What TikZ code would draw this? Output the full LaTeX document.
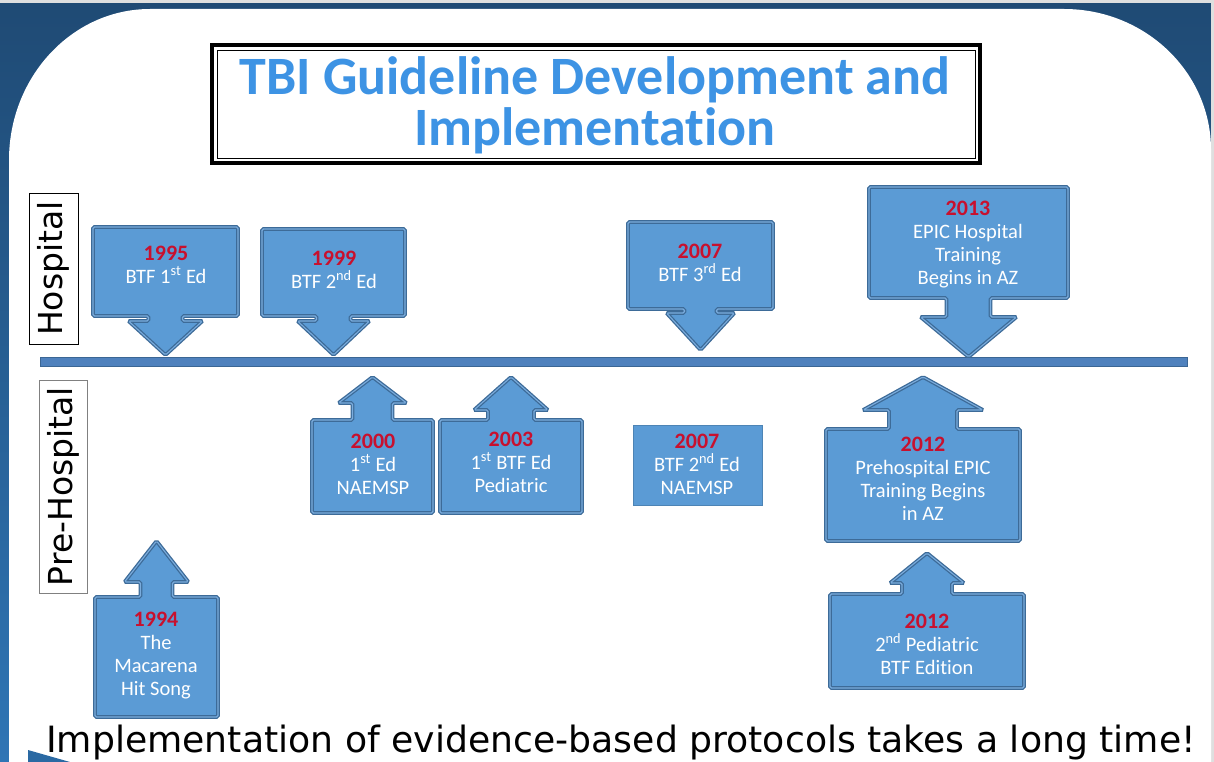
\documentclass[tikz,border=0pt]{standalone}
\usepackage{fontspec}
\setmainfont{Carlito}[Ligatures=NoCommon]
\newfontfamily\labelfont{DejaVu Sans}
\usetikzlibrary{positioning}
\definecolor{bgtop}{HTML}{1F4A74}
\definecolor{bgbottom}{HTML}{2F75B5}
\definecolor{eventfill}{HTML}{5B9BD5}
\definecolor{eventedge}{HTML}{3D6B98}
\definecolor{eventinner}{HTML}{7AACDD}
\definecolor{yearred}{HTML}{C8102E}
\definecolor{barfill}{HTML}{4F81BD}
\definecolor{baredge}{HTML}{3B6694}
\definecolor{titleblue}{HTML}{3D93E4}
\tikzset{
    eventbox/.style = {fill=eventfill, draw=eventedge, line width=1.3pt, double=eventinner, double distance=1.1pt, rounded corners=1.5pt},
    plainbox/.style = {rectangle, fill=eventfill, draw=eventfill!85!black, line width=0.6pt, inner sep=0pt},
    eventtext/.style = {text=white, align=center, inner sep=0pt, anchor=north, font=\fontsize{20.5}{22.8}\selectfont},
    sidelabel/.style = {rotate=90, draw, inner sep=0pt, fill=white, font=\labelfont\fontsize{33}{36}\selectfont},
    timebar/.style = {rectangle, fill=barfill, draw=baredge, line width=1pt, inner sep=0pt}}
\newcommand{\yr}[1]{{\color{yearred}\bfseries\fontsize{22}{22.8}\selectfont #1}\\}
% left, top, right, bottom, shaft half, head half, shoulder, tip
\newcommand{\downevent}[8]{%
    \pgfmathsetmacro{\evcx}{(#1+#3)/2}
    \draw[eventbox] (#1,#2) -- (#3,#2) -- (#3,#4) -- (\evcx+#5,#4) -- (\evcx+#5,#7) -- (\evcx+#6,#7)
        -- (\evcx,#8) -- (\evcx-#6,#7) -- (\evcx-#5,#7) -- (\evcx-#5,#4) -- (#1,#4) -- cycle;}
\newcommand{\upevent}[8]{%
    \pgfmathsetmacro{\evcx}{(#1+#3)/2}
    \draw[eventbox] (#1,#2) -- (\evcx-#5,#2) -- (\evcx-#5,#7) -- (\evcx-#6,#7) -- (\evcx,#8)
        -- (\evcx+#6,#7) -- (\evcx+#5,#7) -- (\evcx+#5,#2) -- (#3,#2) -- (#3,#4) -- (#1,#4) -- cycle;}
\begin{document}
\begin{tikzpicture}[x=1pt, y=-1pt]
    \useasboundingbox (0,0) rectangle (1214,762);
    \fill[top color=bgtop, bottom color=bgbottom] (0,0) rectangle (1214,762);
    \fill[gray!25] (0,0) rectangle (1214,3);
    \fill[gray!25] (1211,0) rectangle (1214,762);
    \fill[white] (9,762) -- (9,160) .. controls (9,77) and (72,9) .. (150,9) -- (1064,9)
        .. controls (1145,9) and (1211,72) .. (1211,150) -- (1211,762) -- cycle;
    \fill[bgbottom!90!black] (28,750) -- (70,762) -- (28,762) -- cycle;

    \draw[line width=3.5pt, fill=white] (212,45) rectangle (980,163);
    \draw[line width=0.8pt] (217,50) rectangle (975,158);
    \node[align=center, inner sep=0pt, text=titleblue, font=\bfseries\fontsize{54}{51}\selectfont] (title) at (595,105)
        {TBI Guideline Development and\\Implementation};

    \node[sidelabel, minimum width=151, minimum height=49] (hosp) at (53.5,268.5) {Hospital};
    \node[sidelabel, draw=gray, minimum width=213, minimum height=48] (prehosp) at (63,486.5) {Pre-Hospital};

    \node[timebar, minimum width=1147, minimum height=9] (timeline) at (613.5,362) {};

    \downevent{93}{227}{238}{316}{17}{37}{321}{355}
    \downevent{262}{229}{405}{316}{17}{36}{321}{355}
    \downevent{628}{222}{773}{309}{16}{34}{313}{350}
    \downevent{869}{187}{1068}{298}{22}{48}{317}{357}
    \upevent{312}{420}{433}{513}{20}{34}{403}{377}
    \upevent{440}{420}{582}{513}{23}{37}{410}{377}
    \upevent{826}{429}{1020}{541}{34}{60}{410}{377}
    \upevent{830}{594}{1024}{688}{25}{37}{583}{553}
    \upevent{95}{597}{218}{717}{16}{32}{582}{541}
    \node[plainbox, minimum width=129, minimum height=80] (nae2007) at (697.5,465) {};

    \node[eventtext] (ev1995) at (166,246) {\yr{1995}BTF 1\textsuperscript{st} Ed};
    \node[eventtext] (ev1999) at (334,251) {\yr{1999}BTF 2\textsuperscript{nd} Ed};
    \node[eventtext] (ev2007) at (700,244) {\yr{2007}BTF 3\textsuperscript{rd} Ed};
    \node[eventtext] (ev2013) at (968,201) {\yr{2013}EPIC Hospital\\Training\\Begins in AZ};
    \node[eventtext] (ev2000) at (373,434) {\yr{2000}1\textsuperscript{st} Ed\\NAEMSP};
    \node[eventtext] (ev2003) at (511,432) {\yr{2003}1\textsuperscript{st} BTF Ed\\Pediatric};
    \node[eventtext] (ev2007n) at (697,434) {\yr{2007}BTF 2\textsuperscript{nd} Ed\\NAEMSP};
    \node[eventtext] (ev2012) at (923,437) {\yr{2012}Prehospital EPIC\\Training Begins\\in AZ};
    \node[eventtext] (ev2012p) at (927,614) {\yr{2012}2\textsuperscript{nd} Pediatric\\BTF Edition};
    \node[eventtext] (ev1994) at (156,612) {\yr{1994}The\\Macarena\\Hit Song};

    \node[anchor=base, inner sep=0pt, font=\labelfont\fontsize{36.2}{40}\selectfont] (msg) at (621,752)
        {Implementation of evidence-based protocols takes a long time!};
\end{tikzpicture}
\end{document}
